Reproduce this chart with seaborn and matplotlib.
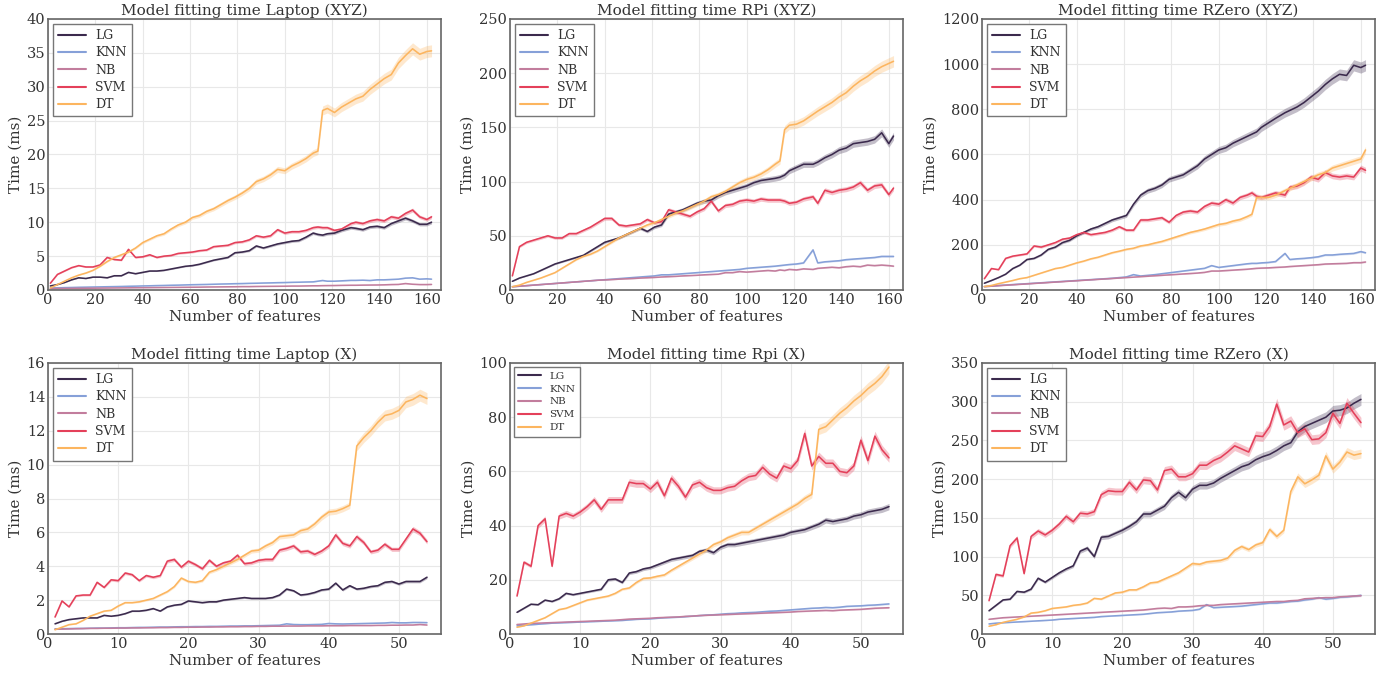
import numpy as np
import pandas as pd
import matplotlib
matplotlib.use("Agg")
import matplotlib.pyplot as plt
import seaborn as sns

# ---------------- data ----------------
models = ["LG", "KNN", "NB", "SVM", "DT"]
colors = ["#3b2a4d", "#86a0d8", "#c27d9d", "#e4405a", "#fcb55f"]

x_top = [1, 4, 7, 10, 13, 16, 19, 22, 25, 28,
         31, 34, 37, 40, 43, 46, 49, 52, 55, 58,
         61, 64, 67, 70, 73, 76, 79, 82, 85, 88,
         91, 94, 97, 100, 103, 106, 109, 112, 114, 116,
         118, 121, 124, 128, 130, 133, 136, 139, 142, 145,
         148, 151, 154, 157, 160, 162]
x_bot = list(range(1, 55))

# Laptop (XYZ)
lap_xyz_lg = [0.6, 0.8, 1.1, 1.5, 1.8, 1.7, 1.9, 1.9, 1.8, 2.1,
              2.1, 2.6, 2.4, 2.6, 2.8, 2.8, 2.9, 3.1, 3.3, 3.5,
              3.6, 3.8, 4.1, 4.4, 4.6, 4.8, 5.5, 5.6, 5.8, 6.5,
              6.2, 6.5, 6.8, 7.0, 7.2, 7.3, 7.8, 8.4, 8.2, 8.1,
              8.3, 8.4, 8.8, 9.2, 9.1, 8.9, 9.3, 9.4, 9.2, 9.8,
              10.2, 10.6, 10.2, 9.7, 9.7, 10.0]
lap_xyz_knn = [0.3, 0.32, 0.35, 0.37, 0.4, 0.42, 0.44, 0.46, 0.48, 0.5,
               0.52, 0.55, 0.57, 0.6, 0.62, 0.65, 0.67, 0.7, 0.72, 0.75,
               0.78, 0.8, 0.82, 0.85, 0.88, 0.9, 0.93, 0.95, 0.98, 1.0,
               1.03, 1.05, 1.08, 1.1, 1.13, 1.15, 1.18, 1.2, 1.3, 1.4,
               1.3, 1.3, 1.35, 1.42, 1.42, 1.45, 1.4, 1.5, 1.5, 1.55,
               1.6, 1.75, 1.8, 1.6, 1.65, 1.6]
lap_xyz_nb = [0.2, 0.22, 0.23, 0.24, 0.25, 0.26, 0.27, 0.28, 0.29, 0.3,
              0.31, 0.32, 0.33, 0.34, 0.35, 0.36, 0.37, 0.38, 0.39, 0.4,
              0.41, 0.42, 0.44, 0.45, 0.46, 0.47, 0.48, 0.5, 0.5, 0.52,
              0.53, 0.54, 0.55, 0.56, 0.58, 0.58, 0.6, 0.62, 0.62, 0.64,
              0.65, 0.66, 0.68, 0.7, 0.7, 0.72, 0.73, 0.74, 0.76, 0.8,
              0.82, 0.95, 0.85, 0.8, 0.8, 0.82]
lap_xyz_svm = [1.0, 2.3, 2.8, 3.3, 3.6, 3.4, 3.4, 3.7, 4.8, 4.5,
               4.4, 6.0, 4.8, 4.9, 5.2, 4.8, 5.0, 5.1, 5.4, 5.5,
               5.6, 5.8, 5.9, 6.4, 6.5, 6.6, 7.0, 7.1, 7.4, 8.0,
               7.8, 8.0, 8.9, 8.4, 8.6, 8.6, 8.8, 9.2, 9.3, 9.2,
               9.2, 8.8, 9.0, 9.8, 10.0, 9.8, 10.2, 10.4, 10.2, 10.8,
               10.6, 11.3, 11.8, 10.8, 10.4, 10.8]
lap_xyz_dt = [0.3, 0.8, 1.3, 1.8, 2.2, 2.5, 2.9, 3.5, 4.2, 4.8,
              5.2, 5.6, 6.2, 7.0, 7.5, 8.0, 8.3, 9.0, 9.6, 10.0,
              10.7, 11.0, 11.6, 12.0, 12.6, 13.2, 13.7, 14.3, 15.0, 16.0,
              16.4, 17.0, 17.8, 17.6, 18.3, 18.8, 19.4, 20.2, 20.5, 26.5,
              26.8, 26.2, 27.0, 27.8, 28.2, 28.6, 29.6, 30.4, 31.2, 31.8,
              33.5, 34.6, 35.6, 34.8, 35.2, 35.3]

# RPi (XYZ)
rpi_xyz_lg = [8, 11, 13, 15, 18, 21, 24, 26, 28, 30,
              32, 36, 40, 44, 46, 48, 51, 54, 57, 54,
              58, 60, 70, 72, 74, 77, 80, 82, 83, 87,
              90, 92, 94, 96, 99, 101, 102, 103, 104, 106,
              110, 113, 116, 116, 118, 122, 125, 129, 131, 135,
              136, 137, 139, 145, 135, 142]
rpi_xyz_knn = [3, 3.5, 4, 4.5, 5, 5.5, 6, 6.5, 7, 7.5,
               8, 8.5, 9, 9.5, 10, 10.5, 11, 11.5, 12, 12.5,
               13, 14, 14, 14.5, 15, 15.5, 16, 16.5, 17, 17.5,
               18, 18.5, 19, 20, 20.5, 21, 21.5, 22, 22.5, 23,
               23.5, 24, 25, 37, 25, 26, 26.5, 27, 28, 28.5,
               29, 29.5, 30, 31, 31, 31]
rpi_xyz_nb = [3, 3.5, 4, 4.5, 5, 5.5, 6, 6.5, 7, 7.5,
              8, 8.5, 9, 9.3, 9.6, 10, 10.3, 10.6, 11, 11.3,
              11.6, 12, 12.3, 12.6, 13, 13.3, 13.6, 14, 14.3, 14.6,
              16, 16, 17, 16.5, 17, 17.5, 18, 17.5, 18.5, 18,
              19, 18.5, 19.5, 19, 20, 20.5, 21, 20.5, 21.5, 22,
              21.5, 23, 22.5, 23, 22.5, 22]
rpi_xyz_svm = [13, 40, 44, 46, 48, 50, 48, 48, 52, 52,
               55, 58, 62, 66, 66, 60, 59, 60, 61, 65,
               62, 63, 74, 72, 70, 68, 72, 75, 82, 73,
               78, 79, 82, 83, 82, 84, 83, 83, 83, 82,
               80, 81, 84, 86, 80, 92, 90, 92, 93, 95,
               99, 92, 96, 97, 88, 94]
rpi_xyz_dt = [3, 4.5, 7, 9, 11, 13.5, 16, 20, 24, 28,
              31, 33, 36, 40, 44, 48, 51, 54, 57, 60,
              62, 65, 68, 71, 73, 76, 79, 82, 86, 88,
              91, 95, 99, 102, 104, 107, 111, 116, 119, 148,
              152, 153, 156, 162, 165, 169, 173, 178, 182, 188,
              193, 197, 202, 206, 209, 211]

# RZero (XYZ)
rz_xyz_lg = [30, 42, 55, 70, 95, 110, 135, 140, 155, 180,
             190, 210, 220, 240, 255, 270, 280, 295, 310, 320,
             330, 380, 420, 440, 450, 465, 490, 500, 510, 530,
             550, 580, 600, 620, 630, 650, 665, 680, 690, 700,
             720, 740, 760, 785, 795, 810, 830, 855, 880, 910,
             935, 955, 950, 995, 985, 995]
rz_xyz_knn = [15, 17, 20, 22, 24, 26, 28, 30, 32, 34,
              36, 38, 40, 42, 44, 46, 48, 50, 52, 55,
              58, 68, 62, 65, 68, 72, 76, 80, 84, 88,
              92, 96, 108, 100, 104, 108, 112, 116, 118, 118,
              120, 122, 126, 162, 135, 138, 140, 143, 147, 155,
              155, 158, 160, 162, 170, 165]
rz_xyz_nb = [15, 17, 19, 21, 23, 25, 27, 29, 31, 33,
             35, 37, 39, 41, 43, 45, 47, 49, 51, 53,
             55, 57, 59, 61, 63, 65, 67, 69, 71, 73,
             75, 78, 84, 84, 86, 88, 90, 92, 94, 96,
             97, 98, 100, 102, 104, 106, 108, 110, 112, 115,
             116, 117, 118, 121, 121, 124]
rz_xyz_svm = [50, 95, 90, 140, 150, 155, 160, 195, 190, 200,
              210, 225, 230, 245, 255, 245, 250, 255, 265, 280,
              265, 265, 310, 310, 315, 320, 300, 330, 345, 350,
              345, 370, 385, 380, 400, 385, 410, 420, 430, 415,
              410, 420, 430, 420, 455, 460, 475, 500, 490, 520,
              505, 500, 505, 500, 540, 530]
rz_xyz_dt = [15, 20, 28, 35, 42, 50, 55, 65, 75, 85,
             95, 100, 110, 120, 128, 138, 145, 155, 165, 172,
             180, 185, 195, 200, 208, 215, 225, 235, 245, 255,
             262, 270, 280, 290, 295, 305, 312, 325, 335, 410,
             410, 410, 420, 440, 450, 465, 480, 495, 510, 520,
             540, 550, 560, 570, 580, 620]

# Laptop (X)
lap_x_lg = [0.6, 0.75, 0.85, 0.9, 0.95, 0.95, 0.95, 1.1, 1.05, 1.1,
            1.2, 1.35, 1.35, 1.4, 1.5, 1.35, 1.6, 1.7, 1.75, 1.95,
            1.9, 1.85, 1.9, 1.9, 2.0, 2.05, 2.1, 2.15, 2.1, 2.1,
            2.1, 2.15, 2.3, 2.65, 2.55, 2.3, 2.35, 2.45, 2.6, 2.65,
            3.0, 2.6, 2.85, 2.65, 2.7, 2.8, 2.85, 3.05, 3.1, 2.95,
            3.1, 3.1, 3.1, 3.35]
lap_x_knn = [0.3, 0.31, 0.32, 0.33, 0.33, 0.34, 0.35, 0.35, 0.36, 0.37,
             0.37, 0.38, 0.39, 0.39, 0.4, 0.41, 0.41, 0.42, 0.43, 0.43,
             0.44, 0.44, 0.45, 0.45, 0.46, 0.47, 0.47, 0.48, 0.48, 0.49,
             0.5, 0.51, 0.52, 0.6, 0.56, 0.55, 0.55, 0.56, 0.57, 0.62,
             0.6, 0.59, 0.6, 0.61, 0.62, 0.63, 0.64, 0.65, 0.68, 0.66,
             0.66, 0.68, 0.68, 0.67]
lap_x_nb = [0.28, 0.29, 0.3, 0.31, 0.32, 0.33, 0.33, 0.34, 0.34, 0.35,
            0.35, 0.36, 0.36, 0.37, 0.37, 0.38, 0.38, 0.39, 0.39, 0.4,
            0.4, 0.41, 0.41, 0.42, 0.42, 0.43, 0.43, 0.44, 0.44, 0.45,
            0.45, 0.46, 0.46, 0.47, 0.47, 0.47, 0.48, 0.48, 0.48, 0.49,
            0.49, 0.49, 0.5, 0.5, 0.5, 0.5, 0.51, 0.51, 0.52, 0.52,
            0.53, 0.53, 0.56, 0.53]
lap_x_svm = [1.0, 1.95, 1.6, 2.25, 2.3, 2.3, 3.05, 2.75, 3.2, 3.15,
             3.6, 3.5, 3.15, 3.45, 3.35, 3.45, 4.3, 4.4, 3.95, 4.3,
             4.1, 3.85, 4.35, 4.0, 4.2, 4.3, 4.65, 4.15, 4.2, 4.35,
             4.4, 4.4, 4.95, 5.05, 5.2, 4.85, 4.9, 4.7, 4.9, 5.2,
             5.85, 5.35, 5.2, 5.75, 5.4, 4.85, 4.95, 5.3, 5.0, 5.0,
             5.6, 6.2, 5.95, 5.45]
lap_x_dt = [0.25, 0.4, 0.55, 0.6, 0.8, 1.05, 1.2, 1.35, 1.4, 1.65,
            1.85, 1.85, 1.9, 2.0, 2.1, 2.3, 2.5, 2.8, 3.3, 3.1,
            3.05, 3.15, 3.65, 3.8, 4.0, 4.2, 4.4, 4.65, 4.9, 4.95,
            5.2, 5.4, 5.75, 5.8, 5.85, 6.1, 6.2, 6.5, 6.9, 7.2,
            7.25, 7.4, 7.6, 11.1, 11.6, 12.0, 12.5, 12.9, 13.0, 13.2,
            13.7, 13.85, 14.1, 13.9]

# Rpi (X)
rpi_x_lg = [8, 9.5, 11, 10.8, 12.5, 12, 13, 15, 14.5, 15,
            15.5, 16, 16.5, 20, 20.3, 19, 22.5, 23, 24, 24.5,
            25.5, 26.5, 27.5, 28, 28.5, 29, 30.5, 31, 30, 32,
            33, 33, 33.5, 34, 34.5, 35, 35.5, 36, 36.5, 37.5,
            38, 38.5, 39.5, 40.5, 42, 41.5, 42, 42.5, 43.5, 44,
            45, 45.5, 46, 47]
rpi_x_knn = [3.0, 3.2, 3.4, 3.6, 3.8, 4.0, 4.1, 4.2, 4.3, 4.4,
             4.5, 4.6, 4.7, 4.8, 4.9, 5.0, 5.2, 5.4, 5.5, 5.6,
             5.8, 6.0, 6.1, 6.2, 6.4, 6.6, 6.8, 7.0, 7.1, 7.3,
             7.5, 7.6, 7.8, 7.9, 8.0, 8.2, 8.4, 8.5, 8.7, 8.9,
             9.1, 9.3, 9.5, 9.6, 9.8, 9.7, 9.9, 10.2, 10.3, 10.4,
             10.6, 10.7, 10.9, 11.1]
rpi_x_nb = [3.5, 3.7, 3.9, 4.0, 4.1, 4.2, 4.3, 4.4, 4.5, 4.6,
            4.7, 4.8, 4.9, 5.0, 5.1, 5.3, 5.5, 5.6, 5.7, 5.8,
            6.0, 6.1, 6.2, 6.3, 6.5, 6.6, 6.8, 6.9, 7.0, 7.1,
            7.2, 7.3, 7.4, 7.5, 7.6, 7.7, 7.8, 7.9, 8.0, 8.1,
            8.3, 8.4, 8.5, 8.6, 8.7, 8.6, 8.8, 8.9, 9.0, 9.1,
            9.3, 9.5, 9.6, 9.7]
rpi_x_svm = [14, 26.5, 25, 40, 42.5, 25, 43.5, 44.5, 43.5, 45,
             47, 49.5, 46, 49.5, 49.5, 49.5, 56, 55.5, 55.5, 53.5,
             56, 51, 57.5, 54.5, 50.5, 55, 56, 54, 53, 53,
             54, 54.5, 56.5, 58, 58.5, 61.5, 59, 57.5, 62, 61,
             64, 74, 62, 65.5, 63, 63, 60, 59.5, 62, 71.5,
             64, 73, 68, 65]
rpi_x_dt = [2.5, 3, 4, 5, 6, 7.5, 9, 9.5, 10.5, 11.5,
            12.5, 13, 13.5, 14, 15, 16.5, 17, 19, 20.5, 20.7,
            21.3, 21.8, 23.5, 25, 26.5, 28, 29.5, 31, 33, 34,
            35.5, 36.5, 37.5, 37.5, 39, 40.5, 42, 43.5, 45, 46.5,
            48, 50, 51.5, 75.5, 76.5, 79, 81.5, 83.5, 86, 88,
            90.5, 92.5, 95, 98.5]

# RZero (X)
rz_x_lg = [30, 37, 44, 45, 55, 54, 58, 72, 67, 73,
           79, 84, 88, 107, 111, 100, 125, 126, 130, 134,
           139, 145, 155, 155, 160, 165, 176, 183, 176, 187,
           192, 192, 195, 201, 206, 211, 216, 219, 225, 229,
           232, 237, 243, 247, 261, 268, 272, 276, 280, 288,
           289, 292, 298, 303]
rz_x_knn = [13, 14, 14.5, 15, 15.5, 16, 16.5, 17, 17.5, 18,
            19, 19.5, 20, 20.5, 21, 21.5, 22.5, 23, 23.5, 24,
            24.5, 25, 25.5, 26.5, 27.5, 28, 28.5, 29.5, 30, 30.5,
            32, 38, 34, 34.5, 35, 35.5, 36, 37, 38, 39,
            40, 40, 41, 42, 42.5, 44, 45, 47, 45, 46,
            47.5, 48, 49, 50]
rz_x_nb = [19, 20, 21, 21.5, 22, 22.5, 23, 23.5, 24, 24.5,
           25, 25.5, 26, 26.5, 27, 27.5, 28, 28.5, 29, 29.5,
           30, 30.5, 31, 32, 33, 33.5, 33, 35, 35, 35.5,
           36.5, 37, 37, 38, 38.5, 39, 39.5, 40, 40.5, 41,
           41.5, 42, 42, 43, 43.5, 45.5, 46, 46.5, 47, 47,
           48, 48.5, 49, 49.5]
rz_x_svm = [43, 77, 75, 114, 124, 78, 126, 133, 128, 134,
            142, 152, 145, 156, 155, 158, 180, 185, 184, 184,
            196, 186, 199, 198, 186, 211, 213, 203, 203, 207,
            218, 218, 224, 228, 235, 243, 239, 235, 256, 255,
            268, 297, 270, 275, 260, 265, 251, 252, 260, 285,
            272, 298, 285, 273]
rz_x_dt = [10, 12, 15, 17, 19, 22, 27, 28, 30, 33,
           34, 35, 37, 38, 40, 46, 45, 49, 53, 54,
           57, 57, 61, 66, 67, 71, 75, 79, 85, 91,
           90, 93, 94, 95, 98, 108, 113, 109, 115, 118,
           135, 126, 134, 184, 203, 194, 199, 205, 230, 213,
           222, 235, 231, 233]

titles = ["Model fitting time Laptop (XYZ)", "Model fitting time RPi (XYZ)",
          "Model fitting time RZero (XYZ)", "Model fitting time Laptop (X)",
          "Model fitting time Rpi (X)", "Model fitting time RZero (X)"]
y_limits = [40, 250, 1200, 16, 100, 350]
y_steps = [5, 50, 200, 2, 20, 50]
x_limits = [166, 166, 166, 56, 56, 56]
x_steps = [20, 20, 20, 10, 10, 10]

panels = [
    (x_top, [lap_xyz_lg, lap_xyz_knn, lap_xyz_nb, lap_xyz_svm, lap_xyz_dt]),
    (x_top, [rpi_xyz_lg, rpi_xyz_knn, rpi_xyz_nb, rpi_xyz_svm, rpi_xyz_dt]),
    (x_top, [rz_xyz_lg, rz_xyz_knn, rz_xyz_nb, rz_xyz_svm, rz_xyz_dt]),
    (x_bot, [lap_x_lg, lap_x_knn, lap_x_nb, lap_x_svm, lap_x_dt]),
    (x_bot, [rpi_x_lg, rpi_x_knn, rpi_x_nb, rpi_x_svm, rpi_x_dt]),
    (x_bot, [rz_x_lg, rz_x_knn, rz_x_nb, rz_x_svm, rz_x_dt]),
]
band_frac = 0.025   # half-width of the shaded run-to-run spread

# ---------------- style ----------------
sns.set_style("whitegrid", {
    "axes.edgecolor": "#666666",
    "grid.color": "#e8e8e8",
    "axes.linewidth": 1.2,
})
plt.rcParams["font.family"] = ["DejaVu Serif"]
plt.rcParams["text.color"] = "#333333"
plt.rcParams["axes.labelcolor"] = "#333333"
plt.rcParams["xtick.color"] = "#333333"
plt.rcParams["ytick.color"] = "#333333"

fig = plt.figure(figsize=(13.94, 6.75), dpi=100)
W, H = 1394.0, 675.0
lefts = [48, 510, 982]
tops = [19, 363]
aw, ah = 393, 271

palette = dict(zip(models, colors))

for i, (xs, series) in enumerate(panels):
    r, c = divmod(i, 3)
    ax = fig.add_axes([lefts[c] / W, 1 - (tops[r] + ah) / H, aw / W, ah / H])
    frames = []
    for m, ys in zip(models, series):
        assert len(ys) == len(xs), (titles[i], m, len(ys))
        frames.append(pd.DataFrame({"Number of features": xs, "Time (ms)": ys, "model": m}))
    df = pd.concat(frames, ignore_index=True)
    sns.lineplot(data=df, x="Number of features", y="Time (ms)", hue="model",
                 hue_order=models, palette=palette, errorbar=None,
                 linewidth=1.15, ax=ax, legend="full")
    for m, ys in zip(models, series):
        ya = np.asarray(ys, dtype=float)
        ax.fill_between(xs, ya * (1 - band_frac), ya * (1 + band_frac),
                        color=palette[m], alpha=0.3, linewidth=0)
    ax.set_xlim(0, x_limits[i])
    ax.set_ylim(0, y_limits[i])
    ax.set_xticks(np.arange(0, x_limits[i], x_steps[i]))
    ax.set_yticks(np.arange(0, y_limits[i] + 1e-9, y_steps[i]))
    ax.tick_params(axis="both", labelsize=10.5, pad=2, length=0)
    ax.set_title(titles[i], fontsize=11, pad=3)
    ax.set_xlabel("Number of features", fontsize=11, labelpad=2)
    ax.set_ylabel("Time (ms)", fontsize=11, labelpad=3)
    for s in ax.spines.values():
        s.set_color("#666666")
        s.set_linewidth(1.2)
    fs = 7.5 if i == 4 else 9
    sns.move_legend(ax, "upper left", title=None, frameon=True, fancybox=False,
                    fontsize=fs, framealpha=1, edgecolor="#777777",
                    borderpad=0.4, labelspacing=0.35, handlelength=2.2,
                    handletextpad=0.8, borderaxespad=0.4)
    leg = ax.get_legend()
    leg.get_frame().set_linewidth(1.0)
    for h in leg.get_lines():
        h.set_linewidth(1.5)

fig.savefig("out.png", dpi=100)
